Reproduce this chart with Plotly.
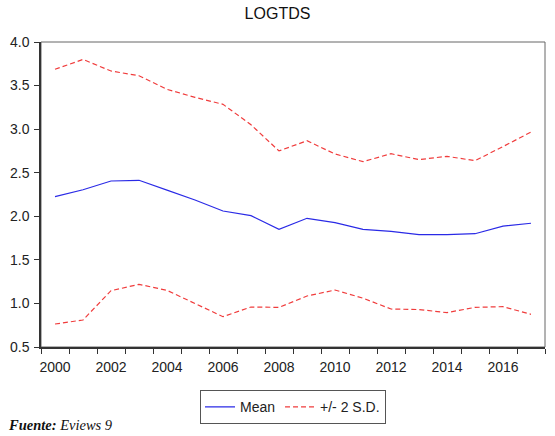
import plotly.graph_objects as go

years = list(range(2000, 2018))
mean_vals = [2.225, 2.305, 2.405, 2.413, 2.30, 2.187, 2.061, 2.007, 1.85,
             1.977, 1.927, 1.85, 1.827, 1.79, 1.79, 1.80, 1.888, 1.92]
upper_vals = [3.687, 3.80, 3.667, 3.613, 3.457, 3.365, 3.285, 3.05, 2.75,
              2.867, 2.715, 2.627, 2.718, 2.65, 2.688, 2.638, 2.80, 2.967]
lower_vals = [0.764, 0.81, 1.146, 1.219, 1.15, 1.0, 0.848, 0.959, 0.955,
              1.085, 1.154, 1.06, 0.936, 0.93, 0.894, 0.955, 0.963, 0.875]
x_labels = [str(y) for y in range(2000, 2017, 2)]
y_ticks = [0.5, 1.0, 1.5, 2.0, 2.5, 3.0, 3.5, 4.0]

BLUE = "#2a2ae6"
RED = "#f03c3c"
FONT = "Liberation Sans, Arial, sans-serif"
DASH = "5px,3px"

fig = go.Figure()
fig.add_trace(go.Scatter(x=years, y=mean_vals, mode="lines", name="Mean",
                         line=dict(color=BLUE, width=1.2)))
fig.add_trace(go.Scatter(x=years, y=upper_vals, mode="lines", name="+/- 2 S.D.",
                         legendgroup="sd", line=dict(color=RED, width=1.2, dash=DASH)))
fig.add_trace(go.Scatter(x=years, y=lower_vals, mode="lines", name="+/- 2 S.D.",
                         legendgroup="sd", showlegend=False,
                         line=dict(color=RED, width=1.2, dash=DASH)))
# invisible trace to bind the label axis
fig.add_trace(go.Scatter(x=years, y=mean_vals, xaxis="x2", mode="lines",
                         line=dict(width=0), hoverinfo="skip", showlegend=False, opacity=0))

xr = [1999.5, 2017.5]
fig.update_layout(
    width=555, height=436,
    margin=dict(l=34, r=10, t=42, b=89),
    paper_bgcolor="white", plot_bgcolor="white",
    font=dict(family=FONT, size=14, color="#222222"),
    title=dict(text="LOGTDS", x=0.5, xanchor="center", y=0.97, yanchor="middle",
               font=dict(size=16, color="#111111")),
    showlegend=True,
    legend=dict(orientation="h", x=0.5, xanchor="center", y=-0.142, yanchor="top",
                bordercolor="#555555", borderwidth=1, bgcolor="white",
                font=dict(size=14), itemwidth=30, tracegroupgap=0),
    xaxis=dict(range=xr, tickvals=[1999.5 + i for i in range(19)],
               showticklabels=False, ticks="outside", ticklen=5, tickcolor="#333333",
               showgrid=False, zeroline=False, showline=True, linecolor="#333333", linewidth=1.5),
    xaxis2=dict(range=xr, overlaying="x", side="bottom", anchor="y",
                tickvals=[int(v) for v in x_labels], ticktext=x_labels,
                ticks="outside", ticklen=7, tickcolor="rgba(0,0,0,0)",
                showgrid=False, zeroline=False, showline=False,
                tickfont=dict(size=14)),
    yaxis=dict(range=[0.5, 4.0], tickvals=y_ticks, tickformat=".1f",
               ticks="outside", ticklen=5, tickcolor="#333333", ticklabelstandoff=2,
               showgrid=False, zeroline=False, showline=True, linecolor="#333333", linewidth=1.5,
               tickfont=dict(size=14)),
    shapes=[dict(type="rect", xref="paper", yref="paper", x0=0, x1=1, y0=0, y1=1,
                 line=dict(color="#666666", width=1), layer="below")],
    annotations=[dict(xref="paper", yref="paper", x=-0.07, y=-0.255, xanchor="left",
                      yanchor="middle", showarrow=False,
                      text="<b><i>Fuente:</i></b><i> Eviews 9</i>",
                      font=dict(family="Liberation Serif, Times New Roman, serif", size=14.5,
                                color="#111111"))],
)

fig.write_html("out.html")
